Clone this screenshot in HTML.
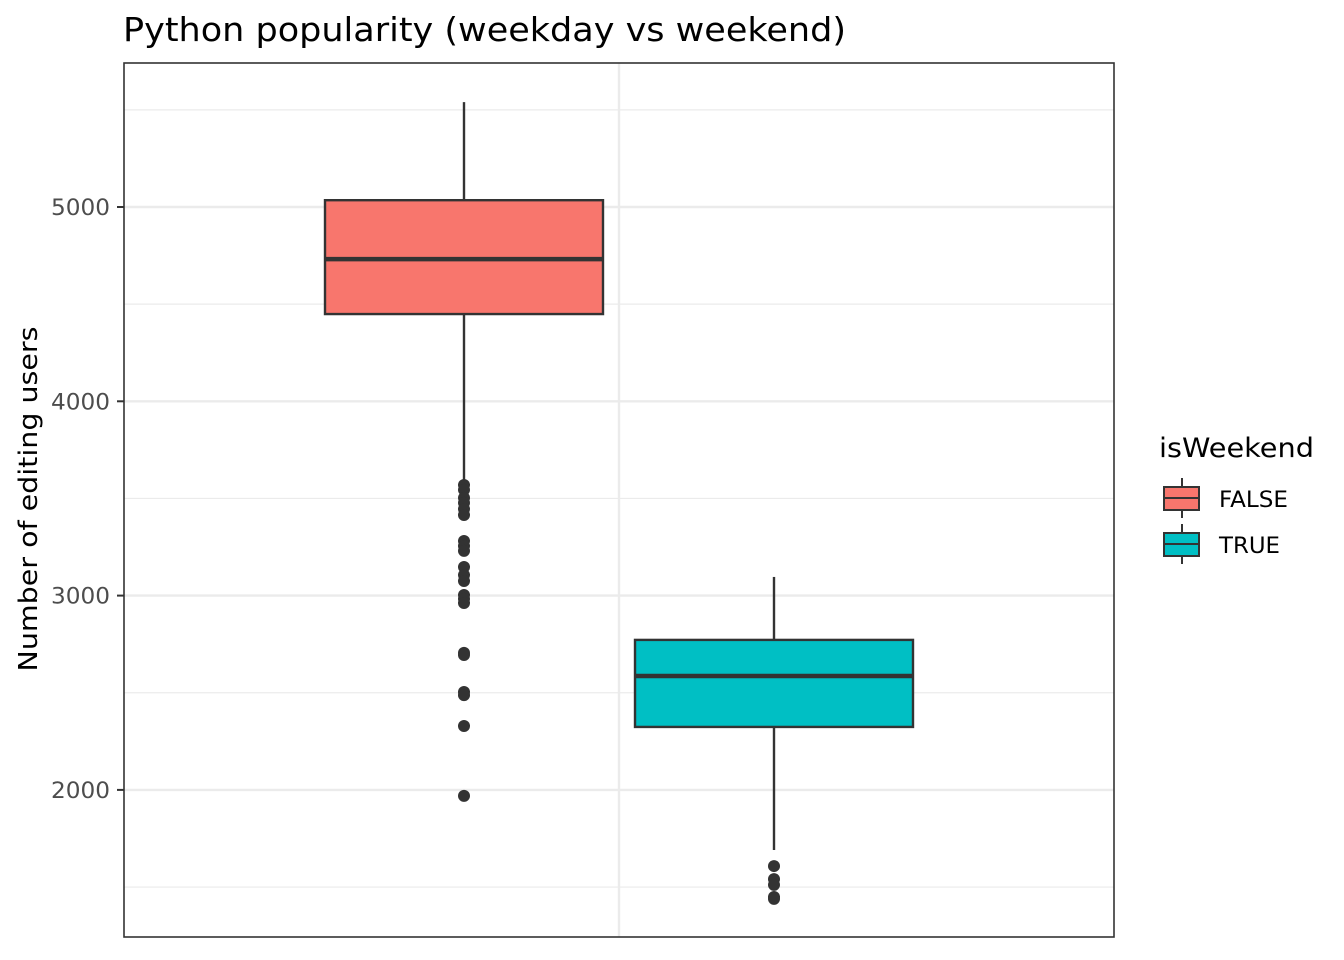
<!DOCTYPE html>
<html><head><meta charset="utf-8"><style>
body{margin:0;background:#fff}
svg{display:block;font-family:"DejaVu Sans","Liberation Sans",sans-serif}
</style></head><body>
<svg id="chart" width="1344" height="960">
<text x="123" y="41" font-size="33" textLength="723" lengthAdjust="spacingAndGlyphs" fill="#000">Python popularity (weekday vs weekend)</text>
<g id="grid"></g>
<g id="marks"></g>
<rect x="124" y="63" width="990" height="874" fill="none" stroke="#333" stroke-width="1.6"/>
<g id="yaxis"></g>
<text transform="translate(37,499) rotate(-90)" text-anchor="middle" font-size="26" textLength="345" lengthAdjust="spacingAndGlyphs">Number of editing users</text>
<g>
<text x="1159" y="457" font-size="27" textLength="155" lengthAdjust="spacingAndGlyphs">isWeekend</text>
<g>
<line x1="1182" y1="478" x2="1182" y2="518" stroke="#333" stroke-width="2"/>
<rect x="1164" y="487" width="35" height="23" fill="#F8766D" stroke="#333" stroke-width="2"/>
<line x1="1164" y1="498" x2="1199" y2="498" stroke="#333" stroke-width="2"/>
<text x="1219" y="507" font-size="22" textLength="69" lengthAdjust="spacingAndGlyphs">FALSE</text></g>
<g>
<line x1="1182" y1="524" x2="1182" y2="564" stroke="#333" stroke-width="2"/>
<rect x="1164" y="533" width="35" height="23" fill="#00BFC4" stroke="#333" stroke-width="2"/>
<line x1="1164" y1="544" x2="1199" y2="544" stroke="#333" stroke-width="2"/>
<text x="1219" y="553" font-size="22" textLength="61" lengthAdjust="spacingAndGlyphs">TRUE</text></g>
</g>
</svg>
<script>
const categories=["FALSE","TRUE"];
const colors=["#F8766D","#00BFC4"];
const whiskerHigh=[5540,3096];
const q3=[5035,2772];
const median=[4732,2586];
const q1=[4449,2324];
const whiskerLow=[3585,1691];
const outliers=[[3569,3544,3503,3477,3446,3415,3281,3255,3230,3147,3106,3075,3003,2983,2962,2705,2694,2504,2488,2329,1969],[1608,1541,1511,1449,1439]];
const majorTicks=[2000,3000,4000,5000];
const minorTicks=[1500,2500,3500,4500,5500];
const NS="http://www.w3.org/2000/svg";
const y=v=>207+(5000-v)*0.1943;
const xc=i=>464+i*310;
const halfW=139;
function mk(t,a,p){const e=document.createElementNS(NS,t);for(const k in a)e.setAttribute(k,a[k]);p.appendChild(e);return e;}
const grid=document.getElementById('grid'),marks=document.getElementById('marks'),ya=document.getElementById('yaxis');
minorTicks.forEach(v=>{const l=mk('line',{x1:124,x2:1114,y1:y(v),y2:y(v),stroke:'#ebebeb','stroke-width':1.2},grid);

});
majorTicks.forEach(v=>{const l=mk('line',{x1:124,x2:1114,y1:y(v),y2:y(v),stroke:'#ebebeb','stroke-width':2.4},grid);


const t=mk('line',{x1:117,x2:124,y1:y(v),y2:y(v),stroke:'#333','stroke-width':2},ya);


const tx=mk('text',{x:110,y:y(v)+8,'text-anchor':'end','font-size':22,textLength:59,lengthAdjust:'spacingAndGlyphs',fill:'#4d4d4d'},ya);tx.textContent=v;

});
const vg=mk('line',{x1:619,x2:619,y1:63,y2:937,stroke:'#ebebeb','stroke-width':2.4},grid);


categories.forEach((c,i)=>{const g=mk('g',{},marks);


const x=xc(i);
mk('line',{x1:x,x2:x,y1:y(whiskerHigh[i]),y2:y(q3[i]),stroke:'#333','stroke-width':2.4},g);
mk('line',{x1:x,x2:x,y1:y(q1[i]),y2:y(whiskerLow[i]),stroke:'#333','stroke-width':2.4},g);
mk('rect',{x:x-halfW,y:y(q3[i]),width:halfW*2,height:y(q1[i])-y(q3[i]),fill:colors[i],stroke:'#333','stroke-width':2.4},g);
mk('line',{x1:x-halfW,x2:x+halfW,y1:y(median[i]),y2:y(median[i]),stroke:'#333','stroke-width':4.5},g);
outliers[i].forEach(v=>{const p=mk('circle',{cx:x,cy:y(v),r:6,fill:'#333'},g);

});});
</script>
</body></html>
